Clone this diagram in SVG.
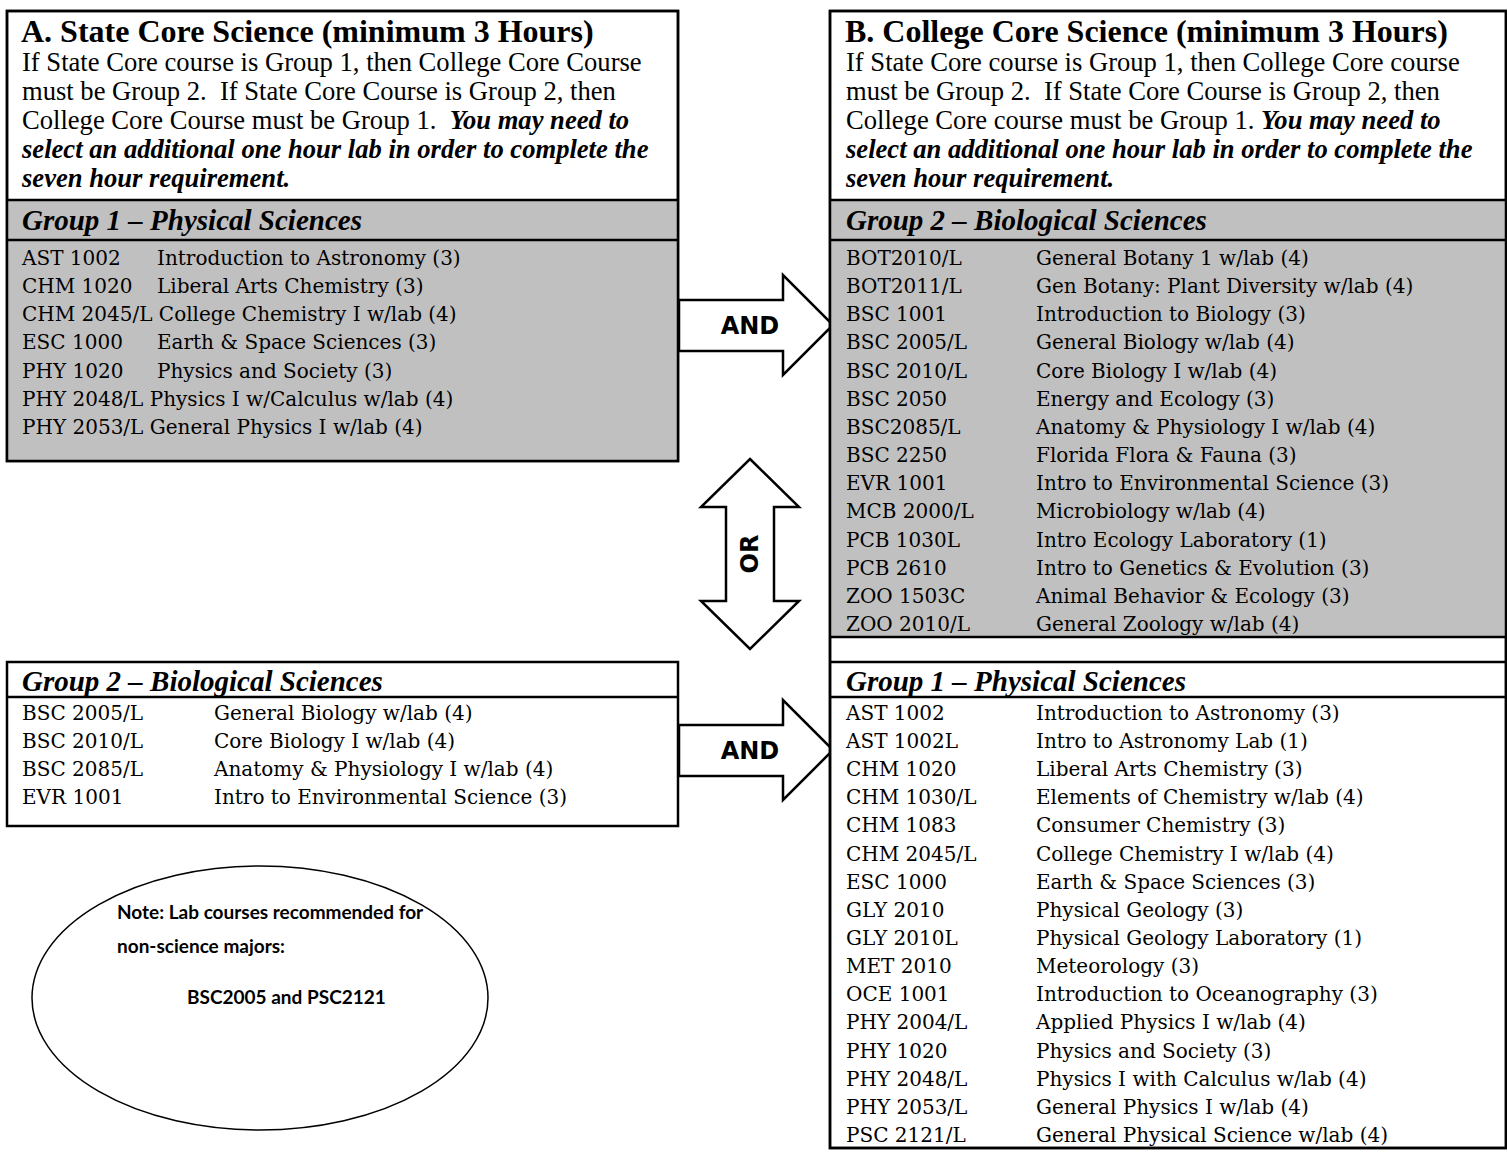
<svg xmlns="http://www.w3.org/2000/svg" width="1507" height="1152" viewBox="0 0 1507 1152">
<style>
.box{fill:#fff;stroke:#000;stroke-width:2.5}
.gray{fill:#c0c0c0}
.ln{stroke:#000;stroke-width:2.5}
.title{font-family:"Liberation Serif",serif;font-weight:bold;font-size:32px;fill:#000}
.body{font-family:"Liberation Serif",serif;font-size:26.6px;fill:#000;white-space:pre}
.bi{font-weight:bold;font-style:italic}
.grp{font-family:"Liberation Serif",serif;font-weight:bold;font-style:italic;font-size:29px;fill:#000}
.c{font-family:"DejaVu Serif",serif;font-size:20px;fill:#000}
.arrow{fill:#fff;stroke:#000;stroke-width:2.5;stroke-linejoin:miter}
.lbl{font-family:"DejaVu Sans",sans-serif;font-weight:bold;font-size:24px;fill:#000;text-anchor:middle;dominant-baseline:central}
.note{font-family:"Lato","Liberation Sans",sans-serif;font-weight:bold;font-size:19px;fill:#000}
</style>

<g id="connectors">
<polygon class="arrow" points="679,300 783,300 783,275 833,325 783,375 783,351 679,351"/>
<polygon class="arrow" points="679,725 783,725 783,700 833,750 783,800 783,776 679,776"/>
<polygon class="arrow" points="750,459 799,507 774,507 774,601 799,601 750,649 701,601 726,601 726,507 701,507"/>
<text class="lbl" x="750" y="326">AND</text>
<text class="lbl" x="750" y="751">AND</text>
<text class="lbl" transform="translate(750,554) rotate(-90)" x="0" y="0">OR</text>
</g>

<g id="boxA">
<rect class="box" x="7" y="11" width="671" height="450"/>
<rect class="gray" x="8.25" y="200" width="668.5" height="259.75"/>
<line class="ln" x1="7" y1="200" x2="678" y2="200"/>
<line class="ln" x1="7" y1="240" x2="678" y2="240"/>
<rect x="7" y="11" width="671" height="450" fill="none" stroke="#000" stroke-width="2.5"/>
<text class="title" x="21" y="42">A. State Core Science (minimum 3 Hours)</text>
<text class="body" x="22" y="71">If State Core course is Group 1, then College Core Course</text>
<text class="body" x="22" y="100">must be Group 2.  If State Core Course is Group 2, then</text>
<text class="body" x="22" y="129">College Core Course must be Group 1.  <tspan class="bi">You may need to</tspan></text>
<text class="body bi" x="22" y="158">select an additional one hour lab in order to complete the</text>
<text class="body bi" x="22" y="187">seven hour requirement.</text>
<text class="grp" x="22" y="230">Group 1 – Physical Sciences</text>
<g class="c">
<text x="22" y="265">AST 1002</text><text x="157" y="265">Introduction to Astronomy (3)</text>
<text x="22" y="293">CHM 1020</text><text x="157" y="293">Liberal Arts Chemistry (3)</text>
<text x="22" y="321">CHM 2045/L College Chemistry I w/lab (4)</text>
<text x="22" y="349">ESC 1000</text><text x="157" y="349">Earth &amp; Space Sciences (3)</text>
<text x="22" y="378">PHY 1020</text><text x="157" y="378">Physics and Society (3)</text>
<text x="22" y="406">PHY 2048/L Physics I w/Calculus w/lab (4)</text>
<text x="22" y="434">PHY 2053/L General Physics I w/lab (4)</text>
</g>
</g>

<g id="boxA2">
<rect class="box" x="7" y="662" width="671" height="164"/>
<line class="ln" x1="7" y1="697" x2="678" y2="697"/>
<text class="grp" x="22" y="691">Group 2 – Biological Sciences</text>
<g class="c">
<text x="22" y="720">BSC 2005/L</text><text x="214" y="720">General Biology w/lab (4)</text>
<text x="22" y="748">BSC 2010/L</text><text x="214" y="748">Core Biology I w/lab (4)</text>
<text x="22" y="776">BSC 2085/L</text><text x="214" y="776">Anatomy &amp; Physiology I w/lab (4)</text>
<text x="22" y="804">EVR 1001</text><text x="214" y="804">Intro to Environmental Science (3)</text>
</g>
</g>

<g id="note">
<ellipse cx="260" cy="998" rx="228" ry="132" fill="#fff" stroke="#000" stroke-width="1.5"/>
<text class="note" x="117" y="919">Note: Lab courses recommended for</text>
<text class="note" x="117" y="953">non-science majors:</text>
<text class="note" x="187" y="1004">BSC2005 and PSC2121</text>
</g>

<g id="boxB">
<rect class="box" x="830" y="11" width="676" height="1137"/>
<rect class="gray" x="831.25" y="200" width="673.5" height="437"/>
<line class="ln" x1="830" y1="200" x2="1506" y2="200"/>
<line class="ln" x1="830" y1="240" x2="1506" y2="240"/>
<line class="ln" x1="830" y1="637" x2="1506" y2="637"/>
<line class="ln" x1="830" y1="662" x2="1506" y2="662"/>
<line class="ln" x1="830" y1="697" x2="1506" y2="697"/>
<rect x="830" y="11" width="676" height="1137" fill="none" stroke="#000" stroke-width="2.5"/>
<text class="title" x="845" y="42">B. College Core Science (minimum 3 Hours)</text>
<text class="body" x="846" y="71">If State Core course is Group 1, then College Core course</text>
<text class="body" x="846" y="100">must be Group 2.  If State Core Course is Group 2, then</text>
<text class="body" x="846" y="129">College Core course must be Group 1. <tspan class="bi">You may need to</tspan></text>
<text class="body bi" x="846" y="158">select an additional one hour lab in order to complete the</text>
<text class="body bi" x="846" y="187">seven hour requirement.</text>
<text class="grp" x="846" y="230">Group 2 – Biological Sciences</text>
<g class="c">
<text x="846" y="265">BOT2010/L</text><text x="1036" y="265">General Botany 1 w/lab (4)</text>
<text x="846" y="293">BOT2011/L</text><text x="1036" y="293">Gen Botany: Plant Diversity w/lab (4)</text>
<text x="846" y="321">BSC 1001</text><text x="1036" y="321">Introduction to Biology (3)</text>
<text x="846" y="349">BSC 2005/L</text><text x="1036" y="349">General Biology w/lab (4)</text>
<text x="846" y="378">BSC 2010/L</text><text x="1036" y="378">Core Biology I w/lab (4)</text>
<text x="846" y="406">BSC 2050</text><text x="1036" y="406">Energy and Ecology (3)</text>
<text x="846" y="434">BSC2085/L</text><text x="1036" y="434">Anatomy &amp; Physiology I w/lab (4)</text>
<text x="846" y="462">BSC 2250</text><text x="1036" y="462">Florida Flora &amp; Fauna (3)</text>
<text x="846" y="490">EVR 1001</text><text x="1036" y="490">Intro to Environmental Science (3)</text>
<text x="846" y="518">MCB 2000/L</text><text x="1036" y="518">Microbiology w/lab (4)</text>
<text x="846" y="547">PCB 1030L</text><text x="1036" y="547">Intro Ecology Laboratory (1)</text>
<text x="846" y="575">PCB 2610</text><text x="1036" y="575">Intro to Genetics &amp; Evolution (3)</text>
<text x="846" y="603">ZOO 1503C</text><text x="1036" y="603">Animal Behavior &amp; Ecology (3)</text>
<text x="846" y="631">ZOO 2010/L</text><text x="1036" y="631">General Zoology w/lab (4)</text>
</g>
<text class="grp" x="846" y="691">Group 1 – Physical Sciences</text>
<g class="c">
<text x="846" y="720">AST 1002</text><text x="1036" y="720">Introduction to Astronomy (3)</text>
<text x="846" y="748">AST 1002L</text><text x="1036" y="748">Intro to Astronomy Lab (1)</text>
<text x="846" y="776">CHM 1020</text><text x="1036" y="776">Liberal Arts Chemistry (3)</text>
<text x="846" y="804">CHM 1030/L</text><text x="1036" y="804">Elements of Chemistry w/lab (4)</text>
<text x="846" y="832">CHM 1083</text><text x="1036" y="832">Consumer Chemistry (3)</text>
<text x="846" y="861">CHM 2045/L</text><text x="1036" y="861">College Chemistry I w/lab (4)</text>
<text x="846" y="889">ESC 1000</text><text x="1036" y="889">Earth &amp; Space Sciences (3)</text>
<text x="846" y="917">GLY 2010</text><text x="1036" y="917">Physical Geology (3)</text>
<text x="846" y="945">GLY 2010L</text><text x="1036" y="945">Physical Geology Laboratory (1)</text>
<text x="846" y="973">MET 2010</text><text x="1036" y="973">Meteorology (3)</text>
<text x="846" y="1001">OCE 1001</text><text x="1036" y="1001">Introduction to Oceanography (3)</text>
<text x="846" y="1029">PHY 2004/L</text><text x="1036" y="1029">Applied Physics I w/lab (4)</text>
<text x="846" y="1058">PHY 1020</text><text x="1036" y="1058">Physics and Society (3)</text>
<text x="846" y="1086">PHY 2048/L</text><text x="1036" y="1086">Physics I with Calculus w/lab (4)</text>
<text x="846" y="1114">PHY 2053/L</text><text x="1036" y="1114">General Physics I w/lab (4)</text>
<text x="846" y="1142">PSC 2121/L</text><text x="1036" y="1142">General Physical Science w/lab (4)</text>
</g>
</g>
</svg>
